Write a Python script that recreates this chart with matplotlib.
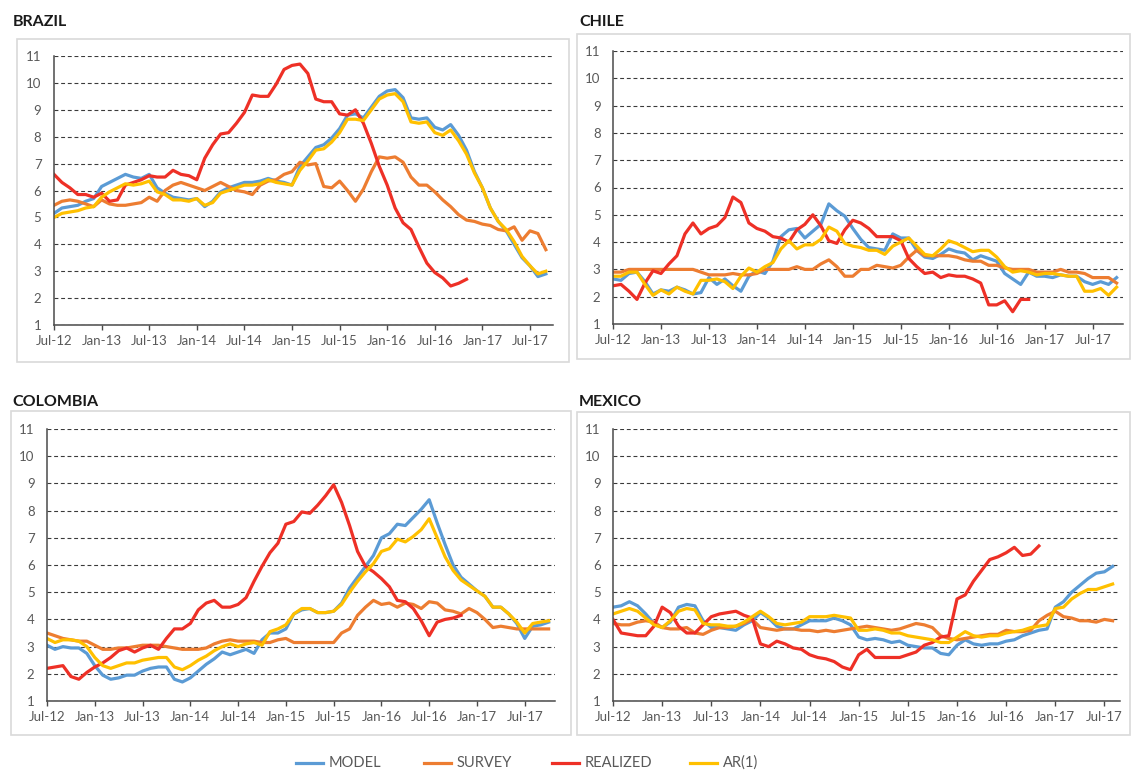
import matplotlib
matplotlib.use('Agg')
import matplotlib.pyplot as plt
from matplotlib.lines import Line2D
from matplotlib.patches import Rectangle

plt.rcParams['font.family'] = ['Lato', 'DejaVu Sans']

# Monthly series, Jul-12 onwards (one value per month)
tick_labels = ['Jul-12', 'Jan-13', 'Jul-13', 'Jan-14', 'Jul-14', 'Jan-15',
               'Jul-15', 'Jan-16', 'Jul-16', 'Jan-17', 'Jul-17']

brazil_model = [5.15, 5.35, 5.4, 5.45, 5.6, 5.7, 6.15, 6.3, 6.45, 6.6, 6.5, 6.45, 6.6, 6.1, 5.9, 5.75,
                5.7, 5.65, 5.7, 5.4, 5.6, 5.95, 6.1, 6.2, 6.3, 6.3, 6.35, 6.45, 6.35, 6.3, 6.2, 6.9,
                7.25, 7.6, 7.7, 7.95, 8.3, 8.8, 8.85, 8.7, 9.1, 9.5, 9.7, 9.75, 9.45, 8.7, 8.65, 8.7,
                8.35, 8.25, 8.45, 8.05, 7.5, 6.7, 6.1, 5.35, 4.85, 4.5, 4.0, 3.5, 3.2, 2.8, 2.9]
brazil_survey = [5.45, 5.6, 5.65, 5.6, 5.5, 5.4, 5.65, 5.5, 5.45, 5.45, 5.5, 5.55, 5.75, 5.6, 6.0, 6.2,
                 6.3, 6.2, 6.1, 6.0, 6.15, 6.3, 6.15, 6.0, 5.95, 5.85, 6.2, 6.35, 6.4, 6.6, 6.7, 7.05,
                 6.95, 7.0, 6.15, 6.1, 6.35, 6.0, 5.6, 6.05, 6.7, 7.25, 7.2, 7.25, 7.05, 6.5, 6.2, 6.2,
                 5.95, 5.65, 5.4, 5.1, 4.9, 4.85, 4.75, 4.7, 4.55, 4.5, 4.65, 4.15, 4.5, 4.4, 3.8]
brazil_realized = [6.6, 6.3, 6.1, 5.85, 5.85, 5.75, 5.9, 5.6, 5.65, 6.2, 6.3, 6.4, 6.55, 6.5, 6.5, 6.75,
                   6.6, 6.55, 6.4, 7.2, 7.7, 8.1, 8.15, 8.5, 8.9, 9.55, 9.5, 9.5, 9.95, 10.5, 10.65, 10.7,
                   10.35, 9.4, 9.3, 9.3, 8.85, 8.8, 9.0, 8.5, 7.75, 6.9, 6.2, 5.35, 4.8, 4.55, 3.9, 3.3,
                   2.95, 2.75, 2.45, 2.55, 2.7]
brazil_ar1 = [5.0, 5.15, 5.2, 5.25, 5.35, 5.4, 5.75, 5.95, 6.1, 6.25, 6.2, 6.25, 6.35, 5.95, 5.85, 5.65,
              5.65, 5.6, 5.7, 5.45, 5.55, 5.9, 6.0, 6.1, 6.2, 6.2, 6.25, 6.4, 6.3, 6.25, 6.2, 6.75,
              7.1, 7.5, 7.55, 7.8, 8.15, 8.65, 8.65, 8.6, 9.0, 9.4, 9.55, 9.6, 9.3, 8.55, 8.5, 8.55,
              8.15, 8.05, 8.25, 7.85, 7.35, 6.65, 6.1, 5.35, 4.85, 4.55, 4.1, 3.55, 3.2, 2.9, 3.0]

chile_model = [2.65, 2.6, 2.85, 2.9, 2.55, 2.1, 2.25, 2.2, 2.35, 2.25, 2.1, 2.15, 2.7, 2.45, 2.65, 2.4,
               2.2, 2.75, 2.95, 2.85, 3.3, 4.2, 4.45, 4.5, 4.15, 4.4, 4.65, 5.4, 5.15, 4.95, 4.5, 4.1,
               3.8, 3.75, 3.7, 4.3, 4.15, 4.15, 3.7, 3.45, 3.4, 3.55, 3.75, 3.65, 3.6, 3.35, 3.5, 3.4,
               3.3, 2.85, 2.65, 2.45, 2.9, 2.75, 2.75, 2.7, 2.8, 2.75, 2.75, 2.55, 2.45, 2.55, 2.45, 2.7]
chile_survey = [2.9, 2.9, 3.0, 3.0, 3.0, 3.0, 3.0, 3.0, 3.0, 3.0, 3.0, 2.9, 2.8, 2.8, 2.8, 2.85,
                2.8, 2.8, 2.85, 3.0, 3.0, 3.0, 3.0, 3.1, 3.0, 3.0, 3.2, 3.35, 3.1, 2.75, 2.75, 3.0,
                3.0, 3.15, 3.1, 3.05, 3.15, 3.45, 3.7, 3.5, 3.5, 3.5, 3.5, 3.45, 3.35, 3.3, 3.3, 3.15,
                3.15, 3.05, 3.0, 3.0, 3.0, 2.9, 2.9, 2.9, 3.0, 2.9, 2.9, 2.85, 2.7, 2.7, 2.7, 2.5]
chile_realized = [2.4, 2.45, 2.2, 1.9, 2.5, 2.95, 2.85, 3.2, 3.5, 4.3, 4.7, 4.3, 4.5, 4.6, 4.9, 5.65,
                  5.45, 4.7, 4.5, 4.4, 4.2, 4.15, 4.0, 4.45, 4.65, 5.0, 4.6, 4.05, 3.95, 4.45, 4.8, 4.7,
                  4.5, 4.2, 4.2, 4.2, 4.05, 3.4, 3.1, 2.85, 2.9, 2.7, 2.8, 2.75, 2.75, 2.65, 2.5, 1.7,
                  1.7, 1.85, 1.45, 1.9, 1.9]
chile_ar1 = [2.75, 2.75, 2.9, 2.9, 2.45, 2.05, 2.25, 2.1, 2.35, 2.2, 2.1, 2.6, 2.6, 2.65, 2.55, 2.3,
             2.75, 3.05, 2.9, 3.1, 3.25, 3.75, 4.05, 3.75, 3.9, 3.9, 4.1, 4.55, 4.4, 3.95, 3.85, 3.8,
             3.7, 3.7, 3.55, 3.85, 4.0, 4.15, 3.85, 3.55, 3.5, 3.75, 4.05, 3.95, 3.8, 3.65, 3.7, 3.7,
             3.45, 3.1, 2.9, 2.95, 2.9, 2.8, 2.85, 2.85, 2.8, 2.75, 2.75, 2.2, 2.2, 2.3, 2.05, 2.35]

colombia_model = [3.05, 2.9, 3.0, 2.95, 2.95, 2.75, 2.3, 1.95, 1.8, 1.85, 1.95, 1.95, 2.1, 2.2, 2.25, 2.25,
                  1.8, 1.7, 1.85, 2.1, 2.35, 2.55, 2.8, 2.7, 2.8, 2.9, 2.75, 3.25, 3.5, 3.5, 3.65, 4.2,
                  4.35, 4.4, 4.25, 4.25, 4.3, 4.6, 5.15, 5.55, 5.95, 6.35, 7.0, 7.15, 7.5, 7.45, 7.75, 8.05,
                  8.4, 7.55, 6.75, 6.0, 5.55, 5.3, 5.05, 4.85, 4.45, 4.45, 4.2, 3.85, 3.3, 3.75, 3.8, 3.9]
colombia_survey = [3.5, 3.4, 3.3, 3.25, 3.2, 3.2, 3.05, 2.9, 2.9, 2.95, 2.95, 3.0, 3.05, 3.05, 3.05, 3.0,
                   2.95, 2.9, 2.9, 2.9, 2.95, 3.1, 3.2, 3.25, 3.2, 3.2, 3.2, 3.15, 3.15, 3.25, 3.3, 3.15,
                   3.15, 3.15, 3.15, 3.15, 3.15, 3.5, 3.65, 4.15, 4.45, 4.7, 4.55, 4.6, 4.45, 4.6, 4.55, 4.4,
                   4.65, 4.6, 4.35, 4.3, 4.2, 4.4, 4.25, 4.0, 3.7, 3.75, 3.7, 3.65, 3.65, 3.65, 3.65, 3.65]
colombia_realized = [2.2, 2.25, 2.3, 1.9, 1.8, 2.05, 2.25, 2.4, 2.6, 2.85, 2.95, 2.8, 2.95, 3.05, 2.9, 3.3,
                     3.65, 3.65, 3.85, 4.35, 4.6, 4.7, 4.45, 4.45, 4.55, 4.8, 5.4, 5.95, 6.45, 6.8, 7.5, 7.6,
                     7.95, 7.9, 8.2, 8.55, 8.95, 8.3, 7.45, 6.5, 5.95, 5.75, 5.5, 5.2, 4.7, 4.65, 4.4, 3.95,
                     3.4, 3.9, 4.0, 4.05, 4.15]
colombia_ar1 = [3.3, 3.15, 3.25, 3.25, 3.2, 3.0, 2.6, 2.3, 2.2, 2.3, 2.4, 2.4, 2.5, 2.55, 2.6, 2.6,
                2.25, 2.15, 2.3, 2.5, 2.65, 2.85, 3.0, 3.1, 3.0, 3.1, 3.15, 3.05, 3.55, 3.65, 3.8, 4.2,
                4.4, 4.4, 4.25, 4.25, 4.3, 4.55, 5.0, 5.4, 5.75, 6.05, 6.5, 6.6, 6.95, 6.85, 7.05, 7.3,
                7.7, 7.0, 6.3, 5.8, 5.45, 5.25, 5.05, 4.85, 4.45, 4.45, 4.2, 3.9, 3.5, 3.85, 3.9, 3.95]

mexico_model = [4.45, 4.5, 4.65, 4.5, 4.2, 3.85, 3.7, 3.9, 4.45, 4.55, 4.5, 3.95, 3.7, 3.7, 3.65, 3.6,
                3.8, 3.95, 4.25, 4.05, 3.75, 3.65, 3.65, 3.8, 3.95, 3.95, 3.95, 4.05, 3.95, 3.8, 3.35, 3.25,
                3.3, 3.25, 3.15, 3.2, 3.05, 3.0, 2.95, 2.95, 2.75, 2.7, 3.05, 3.25, 3.1, 3.05, 3.1, 3.1,
                3.2, 3.25, 3.4, 3.5, 3.6, 3.65, 4.45, 4.65, 5.0, 5.25, 5.5, 5.7, 5.75, 5.95]
mexico_survey = [3.85, 3.8, 3.8, 3.9, 3.95, 3.9, 3.7, 3.65, 3.65, 3.7, 3.5, 3.45, 3.6, 3.7, 3.7, 3.75,
                 3.85, 4.0, 3.7, 3.65, 3.6, 3.65, 3.65, 3.6, 3.6, 3.55, 3.6, 3.55, 3.6, 3.65, 3.7, 3.75,
                 3.7, 3.65, 3.6, 3.65, 3.75, 3.85, 3.8, 3.7, 3.4, 3.3, 3.25, 3.3, 3.35, 3.4, 3.45, 3.45,
                 3.6, 3.55, 3.55, 3.6, 3.95, 4.15, 4.3, 4.1, 4.05, 3.95, 3.95, 3.9, 4.0, 3.95]
mexico_realized = [4.0, 3.5, 3.45, 3.4, 3.4, 3.75, 4.45, 4.25, 3.75, 3.5, 3.5, 3.8, 4.1, 4.2, 4.25, 4.3,
                   4.15, 4.05, 3.1, 3.0, 3.2, 3.1, 2.95, 2.9, 2.7, 2.6, 2.55, 2.45, 2.25, 2.15, 2.7, 2.9,
                   2.6, 2.6, 2.6, 2.6, 2.7, 2.8, 3.05, 3.15, 3.35, 3.4, 4.75, 4.9, 5.4, 5.8, 6.2, 6.3,
                   6.45, 6.65, 6.35, 6.4, 6.7]
mexico_ar1 = [4.2, 4.3, 4.4, 4.3, 4.05, 3.8, 3.7, 3.95, 4.3, 4.4, 4.35, 3.85, 3.8, 3.8, 3.75, 3.75,
              3.9, 4.1, 4.3, 4.1, 3.85, 3.8, 3.85, 3.9, 4.1, 4.1, 4.1, 4.15, 4.1, 4.05, 3.6, 3.6,
              3.65, 3.6, 3.5, 3.5, 3.4, 3.35, 3.3, 3.25, 3.15, 3.15, 3.35, 3.55, 3.4, 3.35, 3.4, 3.4,
              3.5, 3.55, 3.6, 3.7, 3.75, 3.8, 4.4, 4.45, 4.75, 4.95, 5.1, 5.1, 5.2, 5.3]

series_names = ['MODEL', 'SURVEY', 'REALIZED', 'AR(1)']
colors = ['#5B9BD5', '#ED7D31', '#EE3026', '#FFC000']

W, H = 1133, 773
fig = plt.figure(figsize=(W / 100, H / 100), dpi=100)


def px_rect(l, t, r, b):
    # pixel box (top-left origin) -> figure fraction
    return [l / W, 1 - b / H, (r - l) / W, (b - t) / H]


def draw_panel(title, title_xy, plot_px, box_px, xmax, data):
    # chart area frame
    l, t, r, b = box_px
    fig.add_artist(Rectangle((l / W, 1 - b / H), (r - l) / W, (b - t) / H,
                             transform=fig.transFigure, fill=False,
                             edgecolor='#D9D9D9', lw=1.2))
    fig.text(title_xy[0] / W, 1 - title_xy[1] / H, title, fontsize=11.5,
             fontweight='bold', color='#1a1a1a', ha='left', va='center')

    ax = fig.add_axes(px_rect(*plot_px))
    for vals, c in zip(data, colors):
        ax.plot(range(len(vals)), vals, color=c, lw=2.3, solid_joinstyle='round')

    ax.set_xlim(0, xmax)
    ax.set_ylim(1, 11)
    ax.set_yticks(range(1, 12))
    ax.set_xticks(range(0, 61, 6))
    ax.set_xticklabels(tick_labels)
    ax.set_axisbelow(True)
    ax.grid(axis='y', color='#3a3a3a', lw=0.8, linestyle=(0, (3.5, 2.5)))
    for s in ['top', 'right']:
        ax.spines[s].set_visible(False)
    for s in ['left', 'bottom']:
        ax.spines[s].set_color('#4a4a4a')
        ax.spines[s].set_linewidth(1.1)
    ax.tick_params(axis='x', direction='out', length=3.5, width=1, color='#4a4a4a',
                   labelcolor='#595959', labelsize=9.5, pad=4)
    ax.tick_params(axis='y', length=0, labelcolor='#595959', labelsize=9.5, pad=9)
    return ax


draw_panel('BRAZIL', (13, 22), (54, 56, 553, 325), (17, 39, 569, 362), 62.9,
           [brazil_model, brazil_survey, brazil_realized, brazil_ar1])
draw_panel('CHILE', (579, 22), (613, 51, 1123, 324), (577, 34, 1130, 359), 63.8,
           [chile_model, chile_survey, chile_realized, chile_ar1])
draw_panel('COLOMBIA', (12, 402), (47, 429, 555, 701), (11, 411, 571, 735), 63.8,
           [colombia_model, colombia_survey, colombia_realized, colombia_ar1])
draw_panel('MEXICO', (579, 402), (613, 429, 1120, 701), (577, 412, 1130, 735), 61.9,
           [mexico_model, mexico_survey, mexico_realized, mexico_ar1])

# legend along the bottom
leg_x = [296, 424, 552, 690]
for x0, name, c in zip(leg_x, series_names, colors):
    fig.add_artist(Line2D([x0 / W, (x0 + 27) / W], [1 - 763 / H, 1 - 763 / H],
                          transform=fig.transFigure, color=c, lw=2.3))
    fig.text((x0 + 33) / W, 1 - 763 / H, name, fontsize=10.5, color='#595959',
             ha='left', va='center')

fig.savefig('out.png', dpi=100)
